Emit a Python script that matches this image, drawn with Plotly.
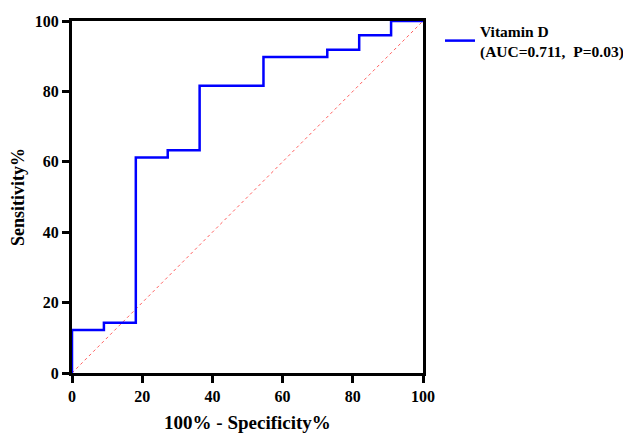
import plotly.graph_objects as go

# ROC curve data (percent)
fpr = [0, 0, 9.09, 9.09, 18.18, 18.18, 27.27, 27.27, 36.36, 36.36, 54.55, 54.55, 72.73, 72.73, 81.82, 81.82, 90.91, 90.91, 100]
tpr = [0, 12.24, 12.24, 14.29, 14.29, 61.22, 61.22, 63.27, 63.27, 81.63, 81.63, 89.80, 89.80, 91.84, 91.84, 95.92, 95.92, 100, 100]
ref_x = [0, 100]
ref_y = [0, 100]
tick_vals = [0, 20, 40, 60, 80, 100]

FONT = "Liberation Serif"

fig = go.Figure()
fig.add_trace(go.Scatter(
    x=ref_x, y=ref_y, mode="lines",
    line=dict(color="#ff6060", width=1, dash="dot"),
    showlegend=False, hoverinfo="skip",
))
fig.add_trace(go.Scatter(
    x=fpr, y=tpr, mode="lines",
    line=dict(color="#0000ff", width=2.5),
    name="<b>Vitamin D<br>(AUC=0.711,  P=0.03)</b>",
    cliponaxis=False,
))

axis_common = dict(
    range=[0, 100], tickvals=tick_vals, ticks="outside", ticklen=7, tickwidth=3,
    tickcolor="black", showline=True, linewidth=3, linecolor="black", mirror=True,
    showgrid=False, zeroline=False, automargin=False,
    tickfont=dict(family=FONT, size=16, color="black", weight="bold"),
)

# page body has an 8px default margin, so the figure is sized to fit the window
fig.update_layout(
    width=623, height=426,
    margin=dict(l=64, r=208, t=13, b=61, autoexpand=False),
    paper_bgcolor="white", plot_bgcolor="white",
    font=dict(family=FONT, color="black"),
    xaxis=dict(**axis_common,
               title=dict(text="<b>100% - Specificity%</b>", font=dict(family=FONT, size=19), standoff=12)),
    yaxis=dict(**axis_common,
               title=dict(text="<b>Sensitivity%</b>", font=dict(family=FONT, size=18), standoff=12)),
    legend=dict(xref="container", yref="container", x=0.6934, y=0.986,
                xanchor="left", yanchor="top",
                font=dict(family=FONT, size=15.5, color="black"),
                bgcolor="rgba(0,0,0,0)"),
)

fig.write_html("out.html")
